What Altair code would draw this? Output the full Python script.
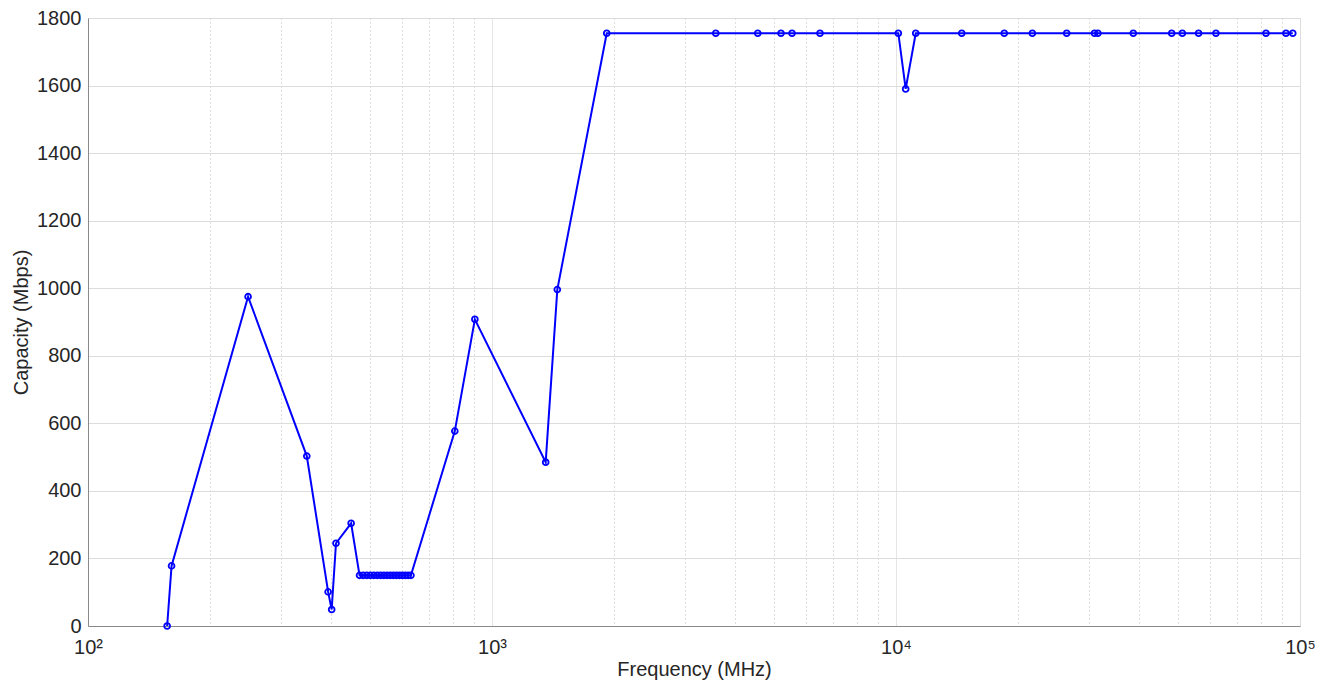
import altair as alt
import pandas as pd

# Frequency (MHz) and capacity (Mbps)
freq_mhz = [157, 161, 249, 348, 393, 401, 411, 448,
            470, 480, 490, 500, 510, 520, 530, 540, 550, 560, 570, 580, 590, 600, 610, 620, 630,
            809, 907, 1358, 1451, 1923, 3580, 4548, 5192, 5529, 6484,
            10133, 10567, 11190, 14545, 18535, 21750, 26453, 31000, 31600,
            38665, 48130, 51140, 56100, 61940, 82380, 92330, 95960]
capacity = [0, 178, 975, 503, 101, 49, 245, 304,
            150, 150, 150, 150, 150, 150, 150, 150, 150, 150, 150, 150, 150, 150, 150, 150, 150,
            577, 908, 485, 996, 1755, 1755, 1755, 1755, 1755, 1755,
            1755, 1590, 1755, 1755, 1755, 1755, 1755, 1755, 1755,
            1755, 1755, 1755, 1755, 1755, 1755, 1755, 1755]

major_ticks = [100, 1000, 10000, 100000]
minor_ticks = [m * d for d in [100, 1000, 10000] for m in range(2, 10)]
x_ticks = sorted(major_ticks + minor_ticks)
y_ticks = list(range(0, 1801, 200))

df = pd.DataFrame({"freq": freq_mhz, "cap": capacity})

major_test = "datum.value == 100 || datum.value == 1000 || datum.value == 10000 || datum.value == 100000"
label_expr = ("datum.value == 100 ? '10²' : datum.value == 1000 ? '10³' : "
              "datum.value == 10000 ? '10⁴' : datum.value == 100000 ? '10⁵' : ''")

font = "Liberation Sans"
text_color = "#262626"
axis_color = "#8a8a8a"

x_enc = alt.X(
    "freq:Q",
    scale=alt.Scale(type="log", domain=[100, 100000], nice=False),
    axis=alt.Axis(
        values=x_ticks,
        labelExpr=label_expr,
        title="Frequency (MHz)",
        grid=True,
        gridColor={"condition": {"test": major_test, "value": "#dcdcdc"}, "value": "#bdbdbd"},
        gridDash={"condition": {"test": major_test, "value": [1, 0]}, "value": [1, 3]},
        gridWidth=1,
        ticks=False,
        domainColor=axis_color,
        labelFont=font, labelFontSize=20, labelColor=text_color, labelPadding=11,
        labelFlush=False, labelOverlap=False,
        titleFont=font, titleFontSize=20, titleColor=text_color, titleFontWeight="normal",
        titlePadding=2,
    ),
)
y_enc = alt.Y(
    "cap:Q",
    scale=alt.Scale(domain=[0, 1800], nice=False),
    axis=alt.Axis(
        values=y_ticks,
        format="d",
        title="Capacity (Mbps)",
        grid=True, gridColor="#dcdcdc", gridWidth=1,
        ticks=False,
        domainColor=axis_color,
        labelFont=font, labelFontSize=20, labelColor=text_color, labelPadding=7,
        titleFont=font, titleFontSize=20, titleColor=text_color, titleFontWeight="normal",
        titlePadding=5,
    ),
)

line = alt.Chart(df).mark_line(color="#0000ff", strokeWidth=2).encode(x=x_enc, y=y_enc)
pts = alt.Chart(df).mark_point(shape="circle", filled=False, color="#0000ff",
                               size=34, strokeWidth=1.8, opacity=1).encode(x=x_enc, y=y_enc)

chart = (line + pts).properties(
    width=1212, height=608,
    autosize=alt.AutoSizeParams(type="none"),
    padding={"left": 80, "top": 10, "right": 27, "bottom": 60},
).configure_view(stroke=axis_color, strokeWidth=1).configure(background="white")

chart.save("out.html", embed_options={"renderer": "svg", "actions": False})
